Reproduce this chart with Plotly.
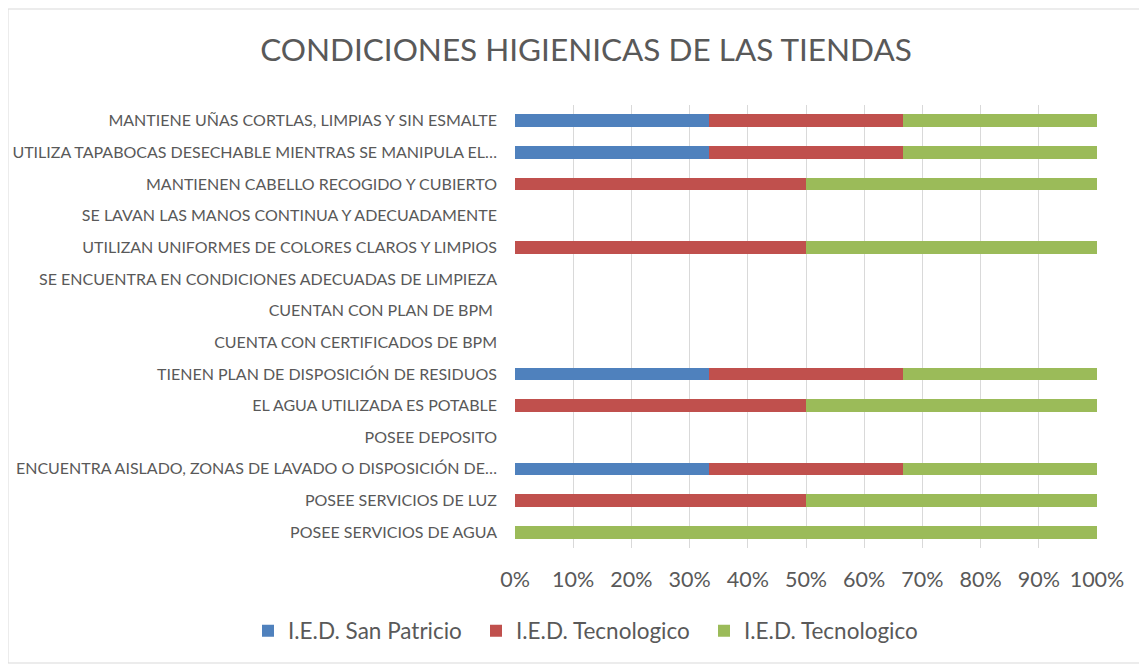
import plotly.graph_objects as go

# categories top to bottom, as in the chart
categorias = [
    "MANTIENE UÑAS CORTLAS, LIMPIAS Y SIN ESMALTE",
    "UTILIZA TAPABOCAS DESECHABLE MIENTRAS SE MANIPULA EL…",
    "MANTIENEN CABELLO RECOGIDO Y CUBIERTO",
    "SE LAVAN LAS MANOS CONTINUA Y ADECUADAMENTE",
    "UTILIZAN UNIFORMES DE COLORES CLAROS Y LIMPIOS",
    "SE ENCUENTRA EN CONDICIONES ADECUADAS DE LIMPIEZA",
    "CUENTAN CON PLAN DE BPM ",
    "CUENTA CON CERTIFICADOS DE BPM",
    "TIENEN PLAN DE DISPOSICIÓN DE RESIDUOS",
    "EL AGUA UTILIZADA ES POTABLE",
    "POSEE DEPOSITO",
    "ENCUENTRA AISLADO, ZONAS DE LAVADO O DISPOSICIÓN DE…",
    "POSEE SERVICIOS DE LUZ",
    "POSEE SERVICIOS DE AGUA",
]

# share of each school per row (percent)
san_patricio = [33.3, 33.3, 0, 0, 0, 0, 0, 0, 33.3, 0, 0, 33.3, 0, 0]
tecnologico_1 = [33.3, 33.3, 50, 0, 50, 0, 0, 0, 33.3, 50, 0, 33.3, 50, 0]
tecnologico_2 = [33.4, 33.4, 50, 0, 50, 0, 0, 0, 33.4, 50, 0, 33.4, 50, 100]

series = [
    ("I.E.D. San Patricio", san_patricio, "#4F81BD"),
    ("I.E.D. Tecnologico", tecnologico_1, "#C0504D"),
    ("I.E.D. Tecnologico", tecnologico_2, "#9BBB59"),
]

font = "Lato, Calibri, sans-serif"
gris = "#595959"

# plot area in px (the page adds an 8px body margin)
L, T, W, H = 507, 97, 582, 443

fig = go.Figure()
for nombre, valores, color in series:
    fig.add_trace(go.Bar(
        y=categorias, x=valores, name=nombre, orientation="h",
        marker=dict(color=color, line=dict(width=0)),
    ))

fig.update_layout(
    barmode="stack",
    bargap=0.6,
    width=1147, height=664,
    margin=dict(l=L, r=1147 - L - W, t=T, b=664 - T - H),
    paper_bgcolor="white", plot_bgcolor="white",
    font=dict(family=font, color=gris),
    title=dict(text="CONDICIONES HIGIENICAS DE LAS TIENDAS",
               x=578 / 1147, xanchor="center", xref="container",
               y=1 - 42 / 664, yanchor="middle", yref="container",
               font=dict(size=31.5, color=gris, family=font)),
    legend=dict(orientation="h", xref="paper", yref="paper",
                x=(240 - L) / W, xanchor="left",
                y=-(623 - T - H) / H, yanchor="middle",
                font=dict(size=22.5, color=gris), traceorder="normal",
                itemwidth=30, entrywidth=183),
    showlegend=True,
)

fig.update_xaxes(
    range=[0, 100], dtick=10, ticksuffix="%",
    showgrid=True, gridcolor="#D9D9D9", gridwidth=1,
    zeroline=False, showline=False, automargin=False,
    tickfont=dict(size=21.5, color=gris), ticklabelstandoff=16,
)
fig.update_yaxes(
    autorange="reversed", showgrid=False, showline=False, ticks="",
    automargin=False,
    tickfont=dict(size=16, color=gris), ticklabelstandoff=17,
)

# light border around the chart area
fig.add_shape(type="rect", xref="paper", yref="paper",
              x0=-L / W, x1=(1138 - L) / W,
              y0=-(655 - T - H) / H, y1=1 + (T - 1) / H,
              line=dict(color="#D9D9D9", width=1))

fig.write_html("out.html")
